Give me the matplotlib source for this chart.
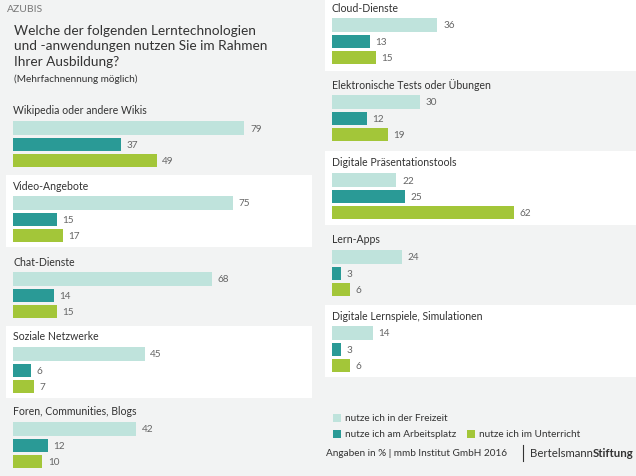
import matplotlib
matplotlib.use("Agg")
import matplotlib.pyplot as plt
from matplotlib.patches import Rectangle

W, H = 636, 477

# data
left_categories = ["Wikipedia oder andere Wikis", "Video-Angebote", "Chat-Dienste",
                   "Soziale Netzwerke", "Foren, Communities, Blogs"]
right_categories = ["Cloud-Dienste", "Elektronische Tests oder Übungen",
                    "Digitale Präsentationstools", "Lern-Apps",
                    "Digitale Lernspiele, Simulationen"]
freizeit = [79, 75, 68, 45, 42, 36, 30, 22, 24, 14]
arbeitsplatz = [37, 15, 14, 6, 12, 13, 12, 25, 3, 3]
unterricht = [49, 17, 15, 7, 10, 15, 19, 62, 6, 6]
series_labels = ["nutze ich in der Freizeit", "nutze ich am Arbeitsplatz",
                 "nutze ich im Unterricht"]

BG = "#f2f3f3"
COLORS = ["#bfe3dc", "#2a9a96", "#a3c639"]
TXT = "#333333"
VAL = "#666666"
PX_PER_UNIT = 2.93
PITCH = 16.3

plt.rcParams["font.family"] = ["Lato", "DejaVu Sans"]

fig = plt.figure(figsize=(W / 100, H / 100), dpi=100, facecolor=BG)


def fx(x):
    return x / W


def fy(y):
    return 1 - y / H


def panel(x0, y0, x1, y1, color="white"):
    fig.patches.append(Rectangle((fx(x0), fy(y1)), (x1 - x0) / W, (y1 - y0) / H,
                                 transform=fig.transFigure, facecolor=color,
                                 edgecolor="none", zorder=-1))


# white panels behind alternate groups
panel(6, 176, 312, 248)
panel(6, 327, 312, 399)
panel(325, 0, 636, 72)
panel(325, 152, 636, 226)
panel(325, 306, 636, 378)

fig.text(fx(7), fy(10), "AZUBIS", fontsize=7.5, color="#777777", va="center")
fig.text(fx(14), fy(46.5), "Welche der folgenden Lerntechnologien\nund -anwendungen nutzen Sie im Rahmen\nIhrer Ausbildung?",
         fontsize=9.8, color=TXT, va="center", linespacing=1.32)
fig.text(fx(14), fy(79), "(Mehrfachnennung möglich)", fontsize=7.2, color=TXT, va="center")


def group(idx, name, x0, title_y):
    fig.text(fx(x0), fy(title_y), name, fontsize=7.6, color=TXT, va="center")
    first = title_y + 18
    top = first - PITCH / 2
    ax = fig.add_axes([fx(x0), fy(top + 3 * PITCH), 100 * PX_PER_UNIT / W, 3 * PITCH / H],
                      zorder=1)
    vals = [freizeit[idx], arbeitsplatz[idx], unterricht[idx]]
    ax.barh(range(3), vals, height=0.8, color=COLORS)
    ax.set_xlim(0, 100)
    ax.set_ylim(2.5, -0.5)
    for i, v in enumerate(vals):
        ax.annotate(str(v), (v, i), xytext=(4, 0), textcoords="offset points",
                    va="center", fontsize=7.2, color=VAL)
    ax.axis("off")


left_titles = [111, 186, 262, 337, 412]
right_titles = [8, 85, 163, 240, 316]
for k, name in enumerate(left_categories):
    group(k, name, 13, left_titles[k])
for k, name in enumerate(right_categories):
    group(k + 5, name, 332, right_titles[k])

# legend
legend_pos = [(333, 419), (333, 435), (467, 435)]
for (x, y), c, lab in zip(legend_pos, COLORS, series_labels):
    fig.patches.append(Rectangle((fx(x), fy(y + 4)), 8 / W, 8 / H,
                                 transform=fig.transFigure, facecolor=c, edgecolor="none"))
    fig.text(fx(x + 12), fy(y), lab, fontsize=7.2, color=TXT, va="center")

# footer
fig.text(fx(326), fy(454), "Angaben in % | mmb Institut GmbH 2016", fontsize=7.2,
         color=TXT, va="center")
fig.add_artist(plt.Line2D([fx(523), fx(523)], [fy(446), fy(462)], color=TXT, lw=0.8))
t1 = fig.text(fx(530), fy(454), "Bertelsmann", fontsize=8.2, color=TXT, va="center")
fig.canvas.draw()
bb = t1.get_window_extent()
fig.text(bb.x1 / W, fy(454), "Stiftung", fontsize=8.2, color=TXT,
         va="center", fontweight="bold")

fig.savefig("out.png", dpi=100, facecolor=BG)
